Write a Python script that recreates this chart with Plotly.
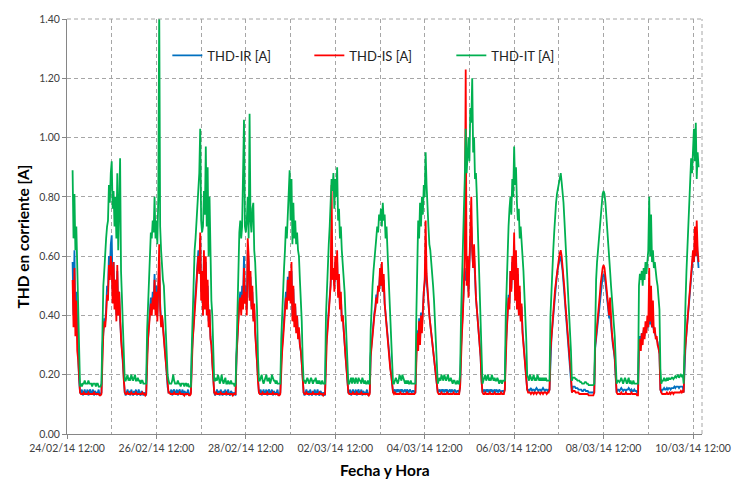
import plotly.graph_objects as go
import pandas as pd

# ---------------- data (values in hundredths of A) ----------------
# Daytime blocks: block 0 starts 24/02/14 15:00, blocks 1..14 start 07:00 of each day; 30-min steps
# Night blocks: start 19:30 of day k; 30-min steps
IT_day = [
    "89 66 81 62 70 55 36 22 16",
    "35 50 55 62 66 70 72 84 78 88 92 76 82 70 80 66 88 62 84 93 55 45 35 24 18",
    "35 45 55 62 68 66 72 68 80 66 72 64 80 145 70 62 55 52 50 42 32 26 20 18 17",
    "30 42 52 62 66 72 80 84 88 103 72 68 70 82 74 97 70 90 60 80 55 45 40 26 18",
    "28 45 60 68 72 66 70 86 106 70 68 72 80 66 108 72 68 76 78 62 58 50 42 26 18",
    "32 42 48 56 62 70 66 74 80 89 72 86 64 78 66 72 64 68 62 60 52 45 38 25 18",
    "40 50 58 64 70 78 86 82 88 76 86 80 90 72 76 66 70 62 58 54 48 40 30 20 17",
    "35 45 50 55 60 62 66 70 68 74 72 76 70 78 72 74 66 70 62 56 46 36 28 20 17",
    "17 40 62 72 66 78 70 80 74 84 80 95 84 74 70 64 62 58 55 50 45 38 30 22 17",
    "20 40 55 62 75 86 103 88 95 100 92 110 105 120 95 100 86 88 80 70 60 52 42 25 17",
    "18 40 52 60 70 76 80 74 86 80 97 84 90 78 72 76 66 70 62 60 55 48 42 32 20",
    "18 40 50 56 62 68 74 78 81 83 85 86 88 85 82 78 72 66 60 54 48 43 38 28 18",
    "17 45 52 58 62 66 70 74 78 81 82 81 78 74 70 65 60 55 50 46 42 38 33 25 17",
    "50 54 52 55 50 56 52 58 54 60 62 80 60 74 58 62 56 58 54 52 50 46 42 22 17",
    "17 36 45 55 62 70 78 85 93 88 98 103 92 105 86 95 90",
]
IT_night = [
    "17 16 17 17 18 17 17 17 18 17 17 17 16 17 17 17 16 17 17 16 16 16 17",
    "18 19 20 18 19 18 20 19 18 19 20 18 18 19 18 18 17 18 18 17 17 17 17",
    "17 17 18 20 18 17 17 17 18 17 17 16 17 17 17 16 17 17 16 17 16 16 16",
    "18 19 18 20 19 17 18 20 18 17 18 19 17 17 18 17 17 18 17 17 17 16 17",
    "18 19 20 18 17 18 19 20 18 18 19 17 18 20 19 18 18 17 18 17 17 17 17",
    "18 17 18 19 18 17 18 19 18 17 18 18 19 17 18 17 18 17 17 18 17 17 17",
    "17 18 19 17 19 18 17 19 18 17 19 18 18 17 19 18 17 18 17 17 18 17 17",
    "17 18 19 18 17 18 20 19 18 20 19 18 17 18 17 18 17 17 18 17 17 17 17",
    "18 19 18 20 19 18 20 19 18 19 20 18 18 19 18 17 18 18 17 17 18 17 17",
    "18 19 20 18 19 20 18 19 18 20 19 18 19 18 18 19 18 17 18 18 17 18 18",
    "19 18 20 19 18 19 20 18 19 18 20 19 18 19 18 19 18 19 18 19 18 18 18",
    "19 19 19 18.5 18.5 18 18 18 17.5 17.5 17 17 17 17.5 17.5 17 17 16.5 16.5 16.5 16.5 16.5 16.5",
    "18 18 17.5 18 19 18 17 18 19 18 17 18 19 17 18 17 17 18 17 17 17 17 17",
    "18 18 19 18 18 19 18 19 18.5 18.5 19 19 18.5 19 19.5 19 19.5 20 19 19.5 20 19.5 20",
]

IS_day = [
    "52 36 56 33 45 28 25 18 14",
    "28 34 38 36 40 47 45 57 52 60 56 44 58 42 52 38 57 40 48 35 32 28 25 18 14",
    "26 32 36 40 44 40 46 42 52 40 48 38 50 64 42 36 40 34 32 28 24 20 16 14 14",
    "26 32 36 40 46 50 56 60 54 68 45 55 40 62 42 60 40 52 36 42 32 30 24 18 14",
    "26 32 40 44 46 40 47 42 56 44 48 40 66 60 45 55 42 50 38 44 34 30 24 18 14",
    "24 28 32 36 40 46 42 52 45 55 44 58 38 50 36 44 34 40 32 36 30 28 24 18 14",
    "28 32 36 40 44 50 84 52 56 48 60 52 62 46 54 42 48 38 40 34 30 26 22 16 14",
    "26 30 34 36 40 42 46 44 50 48 56 50 58 48 54 44 40 36 34 30 26 22 20 16 14",
    "14 26 34 28 38 30 40 34 44 48 52 72 54 48 44 40 37 34 32 30 27 24 21 16 14",
    "16 28 34 40 48 60 123 50 60 46 58 70 80 62 56 64 50 46 42 38 34 30 26 18 14",
    "15 28 34 40 46 42 55 48 60 52 68 45 62 42 56 40 50 38 44 34 30 27 24 20 15",
    "15 28 33 37 41 45 49 52 55 57 59 61 62 60 57 53 49 44 40 36 32 29 26 20 14",
    "14 30 33 36 39 43 47 51 54 56 57 56 53 50 47 44 40 46 37 34 31 28 26 20 14",
    "30 32 28 34 30 36 32 38 34 40 36 56 38 50 36 45 34 36 32 33 30 29 27 15 14",
    "14 26 30 34 38 42 47 52 55 58 62 58 70 60 72 62 58",
]
IS_night = [
    "13.5 13.5 13.5 14 13.5 13.5 13.5 13.5 14 13.5 13.5 13.5 13.5 13.5 14 13.5 13.5 13.5 13.5 13.5 13 13 13.5",
    "13.5 13.5 14 13.5 13.5 13.5 14 13.5 13.5 13.5 13.5 14 13.5 13.5 13.5 13.5 13.5 13.5 14 13.5 13.5 13 13.5",
    "13.5 13.5 13.5 13.5 14 13.5 13.5 13.5 13.5 13.5 14 13.5 13.5 13.5 13.5 13 13.5 13.5 13.5 13.5 13 13 13.5",
    "13.5 14 13.5 13.5 13.5 13.5 14 13.5 13.5 13.5 13.5 13.5 14 13.5 13.5 13.5 13.5 13.5 13.5 13 13.5 13.5 13.5",
    "13.5 13.5 13.5 14 13.5 13.5 13.5 13.5 14 13.5 13.5 13.5 13.5 13.5 14 13.5 13.5 13.5 13.5 13.5 13 13 13.5",
    "13.5 13.5 14 13.5 13.5 13.5 13.5 13.5 13.5 14 13.5 13.5 13.5 13.5 13.5 13.5 14 13.5 13.5 13.5 13 13.5 13.5",
    "13.5 13.5 13.5 13.5 14 13.5 13.5 13.5 14 13.5 13.5 13.5 13.5 14 13.5 13.5 13.5 13.5 13.5 13.5 13.5 13 13.5",
    "13.5 14 13.5 13.5 13.5 13.5 13.5 14 13.5 13.5 13.5 13.5 13.5 13.5 14 13.5 13.5 13.5 13.5 13.5 13.5 13.5 13.5",
    "13.5 13.5 13.5 14 13.5 13.5 13.5 13.5 13.5 14 13.5 13.5 13.5 13.5 13.5 13.5 14 13.5 13.5 13.5 13.5 13.5 13.5",
    "13.5 13.5 14 13.5 13.5 13.5 13.5 14 13.5 13.5 13.5 13.5 14 13.5 13.5 13.5 13.5 13.5 13.5 14 13.5 13.5 13.5",
    "14 14 14 13.5 14 14 13.5 14 14 13.5 14 14 14 13.5 14 14 13.5 14 14 14 13.5 14 14",
    "14.5 14.5 14.5 14 14 14 14 13.5 13.5 13.5 13.5 13.5 13.5 13.5 13.5 13.5 13.5 13 13 13 13 13 13",
    "13.5 13.5 13.5 13.5 14 13.5 13.5 13.5 13.5 14 13.5 13.5 13.5 13.5 13.5 14 13.5 13.5 13.5 13.5 13.5 13 13",
    "13.5 13.5 13.5 13.5 13.5 14 13.5 13.5 14 13.5 14 14 13.5 14 14 14 14 14 14 14 14.5 14 14.5",
]

IR_day = [
    "58 40 62 38 48 30 26 18 14",
    "29 35 39 38 42 50 48 60 55 64 67 48 58 45 52 40 55 42 48 38 33 29 25 18 14",
    "27 33 37 42 46 42 48 44 54 42 50 40 48 58 44 38 40 35 33 29 25 20 16 14 14",
    "27 33 37 42 48 52 58 62 56 66 48 55 42 60 44 58 42 50 38 42 33 30 24 18 14",
    "27 33 41 45 48 42 50 46 60 46 50 42 62 58 46 53 43 48 39 42 35 30 24 18 14",
    "25 29 33 37 41 48 44 53 47 55 46 55 40 49 38 43 35 40 33 35 30 28 24 18 14",
    "29 33 37 41 45 50 55 53 56 50 58 52 58 47 52 43 46 39 40 35 31 27 22 16 14",
    "27 31 35 37 41 43 47 46 50 49 54 50 55 48 52 44 41 37 35 31 27 23 20 16 14",
    "14 27 35 30 39 32 41 36 45 48 51 60 52 47 43 40 37 34 32 30 27 24 21 16 14",
    "16 29 35 41 48 56 52 52 58 48 58 66 70 62 56 60 50 46 42 38 34 30 26 18 14",
    "15 29 35 41 47 44 55 49 58 52 64 47 60 44 54 41 48 39 43 35 31 28 25 20 15",
    "15 28 32 36 40 44 48 51 54 56 58 59 60 58 55 51 47 42 38 34 31 28 25 20 14",
    "14 29 32 35 38 42 45 49 51 53 54 53 51 48 45 42 39 40 36 33 30 28 25 19 14",
    "30 33 31 34 32 35 33 36 35 37 36 40 37 38 36 37 35 34 33 32 31 29 27 15 14",
    "14 26 30 34 38 42 46 50 53 56 60 58 64 60 66 60 56",
]
IR_night = [
    "14 15 13 14.5 15 13.5 14 15 13 14.5 15 13.5 14 15 13 14.5 14 13.5 14 15 13 13.5 14",
    "13 14 15 13.5 14.5 13 15 14 13 14.5 13.5 15 13 14 15 13.5 13 14.5 14 13 14 13.5 13",
    "14 15 13 14.5 15 13.5 14 15 13 14.5 15 13.5 14 15 13 14.5 14 13.5 14 15 13 13.5 14",
    "13 14 15 13.5 14.5 13 15 14 13 14.5 13.5 15 13 14 15 13.5 13 14.5 14 13 14 13.5 13",
    "14 15 13 14.5 15 13.5 14 15 13 14.5 15 13.5 14 15 13 14.5 14 13.5 14 15 13 13.5 14",
    "13 14 15 13.5 14.5 13 15 14 13 14.5 13.5 15 13 14 15 13.5 13 14.5 14 13 14 13.5 13",
    "14 15 13 14.5 15 13.5 14 15 13 14.5 15 13.5 14 15 13 14.5 14 13.5 14 15 13 13.5 14",
    "14.5 15 14 15 14.5 15 14 15 14.5 15 14 14.5 15 14 15 14.5 14 15 14.5 14 14.5 14.5 14",
    "14.5 15 14 15 14.5 15 14 15 14.5 15 14 14.5 15 14 15 14.5 14 15 14.5 14 14.5 14.5 14",
    "14.5 15 14 15 14.5 15 14 15 14.5 15 14 14.5 15 14 15 14.5 14 15 14.5 14 14.5 14.5 14",
    "15 14.5 15 15.5 14.5 15 15 14.5 15 15.5 15 14.5 15 15 14.5 15 15.5 15 14.5 15 15 14.5 15",
    "16 16 16 15.5 15.5 15.5 15 15 15 15 14.5 14.5 15 15 14.5 14.5 14.5 14 14 14 14 14 14",
    "15 15 14.5 15 15.5 15 14.5 15 15 14.5 15 15 15.5 15 14.5 15 14.5 14.5 15 14.5 14.5 14 14",
    "15 15 15.5 15 15 15.5 15 15.5 15.5 15 15.5 15.5 15.5 16 15.5 16 16 16 15.5 16 16 16 16",
]

SERIES = ["THD-IR [A]", "THD-IS [A]", "THD-IT [A]"]
COLORS = ["#0070C0", "#FF0000", "#00B050"]
TICK_DATES = ["24/02/14 12:00", "26/02/14 12:00", "28/02/14 12:00", "02/03/14 12:00",
              "04/03/14 12:00", "06/03/14 12:00", "08/03/14 12:00", "10/03/14 12:00"]
BASE = pd.Timestamp("2014-02-24")
STEP = pd.Timedelta(minutes=30)


def parse(s):
    return [float(v) / 100.0 for v in s.split()]


def build(day_blocks, night_blocks):
    xs, ys = [], []
    for k, s in enumerate(day_blocks):
        vals = parse(s)
        start = BASE + pd.Timedelta(days=k, hours=15 if k == 0 else 7)
        xs += [start + STEP * i for i in range(len(vals))]
        ys += vals
        if k < len(night_blocks):
            nv = parse(night_blocks[k])
            ns = BASE + pd.Timedelta(days=k, hours=19, minutes=30)
            xs += [ns + STEP * i for i in range(len(nv))]
            ys += nv
    return xs, ys


fig = go.Figure()
for name, color, (d, n) in zip(SERIES, COLORS,
                               [(IR_day, IR_night), (IS_day, IS_night), (IT_day, IT_night)]):
    x, y = build(d, n)
    fig.add_trace(go.Scatter(x=x, y=y, mode="lines", name=name,
                             line=dict(color=color, width=1.8)))

GRID = "#A6A6A6"
tickvals = [pd.to_datetime(t, format="%d/%m/%y %H:%M") for t in TICK_DATES]

fig.update_layout(
    width=743, height=481,
    margin=dict(l=67, r=39, t=19, b=47),
    paper_bgcolor="white", plot_bgcolor="white",
    font=dict(family="Lato, Open Sans, sans-serif", color="#404040"),
    showlegend=True,
    legend=dict(orientation="h", x=0.158, y=0.912, xanchor="left", yanchor="middle",
                bgcolor="rgba(0,0,0,0)", font=dict(size=13, color="#222222"),
                itemwidth=30, tracegroupgap=0, entrywidth=97, entrywidthmode="pixels"),
    xaxis=dict(
        type="date",
        range=["2014-02-24 12:00", "2014-03-10 16:50"],
        tickmode="array", tickvals=tickvals, ticktext=TICK_DATES,
        tickfont=dict(size=10.5, color="#404040"),
        showgrid=True, gridcolor=GRID, griddash="4px,3px", gridwidth=1,
        minor=dict(tickmode="linear", tick0="2014-02-24 12:00", dtick=86400000,
                   showgrid=True, gridcolor=GRID, griddash="4px,3px", gridwidth=1),
        showline=True, linecolor="#868686", linewidth=1,
        ticks="outside", ticklen=4, tickcolor="#868686",
        zeroline=False,
    ),
    yaxis=dict(
        range=[0, 1.4], dtick=0.2, tick0=0, tickformat=".2f",
        tickfont=dict(size=10.5, color="#404040"),
        showgrid=True, gridcolor=GRID, griddash="4px,3px", gridwidth=1,
        showline=True, linecolor="#868686", linewidth=1,
        ticks="outside", ticklen=4, tickcolor="#868686",
        zeroline=False,
    ),
    annotations=[
        dict(text="<b>THD en corriente [A]</b>", xref="paper", yref="paper",
             x=0, y=0.5, xshift=-45, yshift=-10, textangle=-90, showarrow=False,
             font=dict(size=15.5, color="#000000"), xanchor="center", yanchor="middle"),
        dict(text="<b>Fecha y Hora</b>", xref="paper", yref="paper",
             x=0.5, y=0, yshift=-36, showarrow=False,
             font=dict(size=15.5, color="#000000"), xanchor="center", yanchor="middle"),
    ],
    shapes=[
        dict(type="line", xref="paper", yref="paper", x0=1, x1=1, y0=0, y1=1,
             line=dict(color=GRID, width=1, dash="4px,3px")),
        dict(type="line", xref="paper", yref="paper", x0=0, x1=1, y0=1, y1=1,
             line=dict(color=GRID, width=1, dash="4px,3px")),
    ],
)

fig.write_html("out.html")
